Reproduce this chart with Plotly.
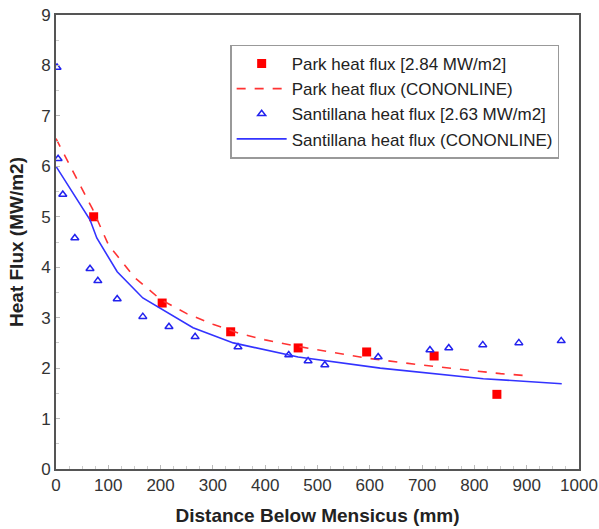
import plotly.graph_objects as go

# Measured points
park_x = [72, 203, 334, 463, 594, 723, 843]
park_y = [5.0, 3.29, 2.72, 2.40, 2.32, 2.24, 1.48]

sant_x = [2, 4, 13, 36, 65, 80, 117, 166, 216, 266, 348, 445, 482, 514, 616, 715, 751, 816, 885, 966]
sant_y = [7.96, 6.15, 5.44, 4.58, 3.97, 3.73, 3.37, 3.02, 2.82, 2.62, 2.42, 2.26, 2.14, 2.06, 2.22, 2.36, 2.40, 2.46, 2.50, 2.54]

# CONONLINE model curves
park_line_x = [0, 70, 100, 150, 200, 250, 300, 350, 400, 463, 530, 600, 700, 800, 850, 900]
park_line_y = [6.55, 5.15, 4.45, 3.80, 3.36, 3.08, 2.87, 2.69, 2.56, 2.43, 2.31, 2.19, 2.06, 1.94, 1.89, 1.85]

sant_line_x = [0, 65, 78, 103, 117, 166, 212, 262, 339, 463, 620, 734, 817, 967]
sant_line_y = [6.0, 4.94, 4.58, 4.15, 3.91, 3.39, 3.10, 2.80, 2.50, 2.22, 2.00, 1.87, 1.79, 1.69]

names = ["Park heat flux [2.84 MW/m2]", "Park heat flux (CONONLINE)",
         "Santillana heat flux [2.63 MW/m2]", "Santillana heat flux (CONONLINE)"]

FONT = "Liberation Sans, Arial"

fig = go.Figure()
fig.add_trace(go.Scatter(x=park_x, y=park_y, mode="markers", name=names[0],
                         marker=dict(symbol="square", size=9, color="#ff0000")))
fig.add_trace(go.Scatter(x=park_line_x, y=park_line_y, mode="lines", name=names[1],
                         line=dict(color="#ff3333", width=1.6, dash="dash")))
fig.add_trace(go.Scatter(x=sant_x, y=sant_y, mode="markers", name=names[2],
                         marker=dict(symbol="triangle-up-open", size=7, color="#2222ee",
                                     line=dict(width=1.5, color="#2222ee"))))
fig.add_trace(go.Scatter(x=sant_line_x, y=sant_line_y, mode="lines", name=names[3],
                         line=dict(color="#3333ff", width=1.6)))

axis_common = dict(showgrid=False, zeroline=False, showline=True, linecolor="#555555",
                   linewidth=2, mirror=True, ticks="inside", ticklen=4, tickcolor="#bbbbbb",
                   automargin=False,
                   tickfont=dict(family=FONT, size=17, color="#333333"))

fig.update_xaxes(range=[0, 1000], dtick=100, tick0=0,
                 minor=dict(dtick=25, ticks="inside", ticklen=3, tickcolor="#cccccc"),
                 title=dict(text="<b>Distance Below Mensicus (mm)</b>",
                            font=dict(family=FONT, size=19, color="#222222"),
                            standoff=14),
                 **axis_common)
fig.update_yaxes(range=[0, 9], dtick=1, tick0=0,
                 minor=dict(dtick=0.5, ticks="inside", ticklen=3, tickcolor="#cccccc"),
                 title=dict(text="<b>Heat Flux (MW/m2)</b>",
                            font=dict(family=FONT, size=19, color="#222222"),
                            standoff=12),
                 **axis_common)

fig.update_layout(
    width=599, height=529,
    margin=dict(l=56, r=20, t=15, b=60),
    plot_bgcolor="white", paper_bgcolor="white",
    showlegend=True,
    legend=dict(x=0.333, y=0.935, xanchor="left", yanchor="top",
                bgcolor="white", bordercolor="#999999", borderwidth=1.5,
                itemwidth=50,
                font=dict(family=FONT, size=17, color="#222222"),
                tracegroupgap=0),
)

fig.write_html("out.html")
